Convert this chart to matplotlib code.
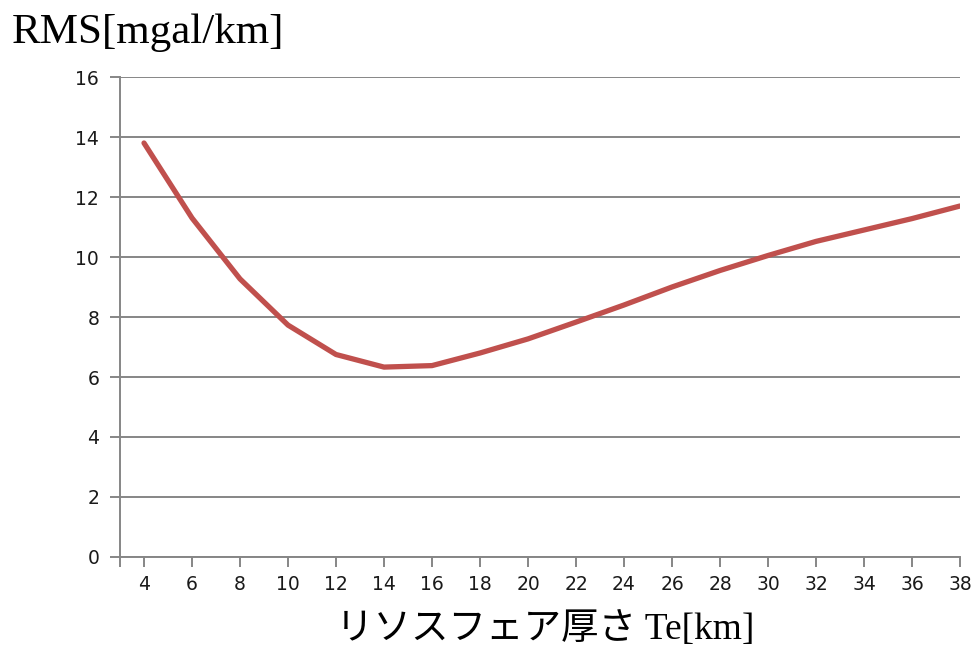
import matplotlib
matplotlib.use("Agg")
import matplotlib.pyplot as plt

# lithosphere thickness Te [km] and RMS misfit [mgal/km]
te = [4, 6, 8, 10, 12, 14, 16, 18, 20, 22, 24, 26, 28, 30, 32, 34, 36, 38]
rms = [13.8, 11.3, 9.27, 7.73, 6.75, 6.33, 6.38, 6.8, 7.27, 7.83, 8.4, 9.0,
       9.55, 10.05, 10.52, 10.9, 11.28, 11.7]

y_ticks = [0, 2, 4, 6, 8, 10, 12, 14, 16]
x_ticks = te

grid_color = "#868686"

fig = plt.figure(figsize=(9.75, 6.52), dpi=100)
ax = fig.add_axes([120 / 975, 95 / 652, 840 / 975, 480 / 652])

ax.plot(te, rms, color="#C0504D", lw=3.8, solid_capstyle="round", zorder=3)

ax.set_xlim(3, 38)
ax.set_ylim(0, 16)
ax.set_yticks(y_ticks)
ax.set_xticks([3] + x_ticks)
ax.set_xticklabels([""] + [str(v) for v in x_ticks])
ax.yaxis.grid(True, color=grid_color, lw=1.4)
ax.set_axisbelow(True)

for s in ["top", "right"]:
    ax.spines[s].set_visible(False)
for s in ["left", "bottom"]:
    ax.spines[s].set_color(grid_color)
    ax.spines[s].set_linewidth(1.4)
ax.tick_params(axis="both", colors=grid_color, width=1.4, length=7,
               labelsize=13.5, labelcolor="#1a1a1a")
ax.tick_params(axis="y", pad=8)
ax.tick_params(axis="x", pad=6)

fig.text(12 / 975, 1 - 33 / 652, "RMS[mgal/km]", fontsize=31,
         family=["Liberation Serif", "Noto Sans CJK JP"], va="center", ha="left")
fig.text(545 / 975, 1 - 630 / 652, "リソスフェア厚さ Te[km]", fontsize=27,
         family=["Liberation Serif", "Noto Sans CJK JP"], va="center", ha="center")

fig.savefig("out.png", dpi=100)
